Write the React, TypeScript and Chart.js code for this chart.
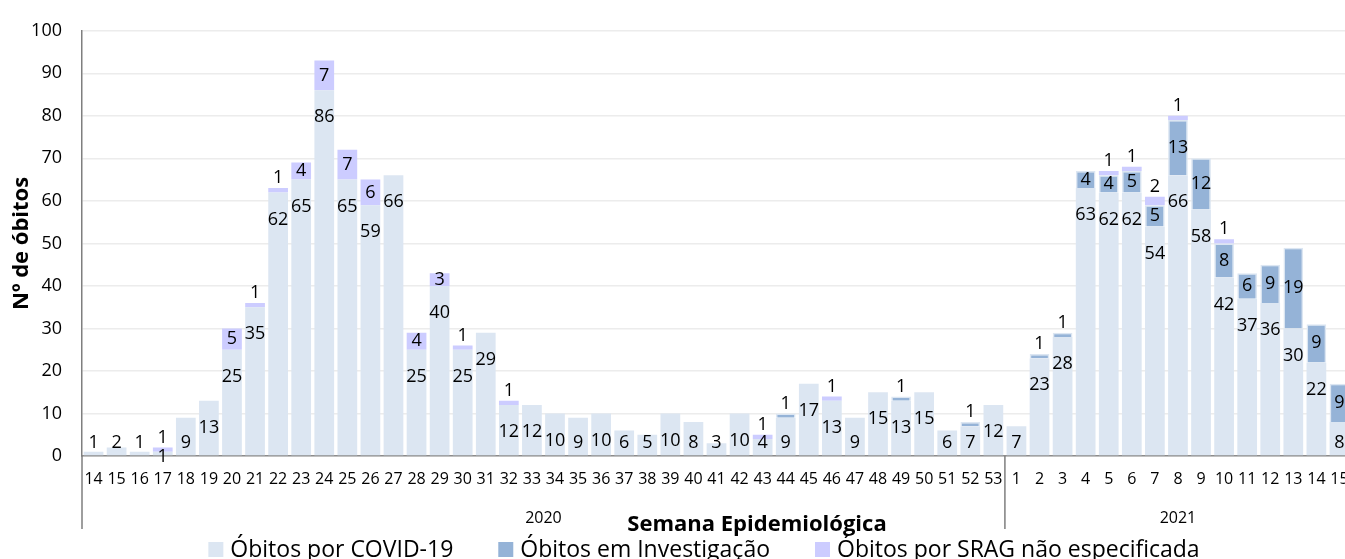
import React, { useEffect, useRef } from "react";
import { Chart, registerables } from "chart.js";

Chart.register(...registerables);

// ---- Data ----
const weeks2020 = [
  "14", "15", "16", "17", "18", "19", "20", "21", "22", "23",
  "24", "25", "26", "27", "28", "29", "30", "31", "32", "33",
  "34", "35", "36", "37", "38", "39", "40", "41", "42", "43",
  "44", "45", "46", "47", "48", "49", "50", "51", "52", "53",
];
const weeks2021 = ["1", "2", "3", "4", "5", "6", "7", "8", "9", "10", "11", "12", "13", "14", "15"];
const yearLabels = ["2020", "2021"];
const categories = [...weeks2020, ...weeks2021];

const obitosCovid = [
  1, 2, 1, 1, 9, 13, 25, 35, 62, 65,
  86, 65, 59, 66, 25, 40, 25, 29, 12, 12,
  10, 9, 10, 6, 5, 10, 8, 3, 10, 4,
  9, 17, 13, 9, 15, 13, 15, 6, 7, 12,
  7, 23, 28, 63, 62, 62, 54, 66, 58, 42, 37, 36, 30, 22, 8,
];
const obitosInvestigacao = [
  0, 0, 0, 0, 0, 0, 0, 0, 0, 0,
  0, 0, 0, 0, 0, 0, 0, 0, 0, 0,
  0, 0, 0, 0, 0, 0, 0, 0, 0, 0,
  1, 0, 0, 0, 0, 1, 0, 0, 1, 0,
  0, 1, 1, 4, 4, 5, 5, 13, 12, 8, 6, 9, 19, 9, 9,
];
const obitosSrag = [
  0, 0, 0, 1, 0, 0, 5, 1, 1, 4,
  7, 7, 6, 0, 4, 3, 1, 0, 1, 0,
  0, 0, 0, 0, 0, 0, 0, 0, 0, 1,
  0, 0, 1, 0, 0, 0, 0, 0, 0, 0,
  0, 0, 0, 0, 1, 1, 2, 1, 0, 1, 0, 0, 0, 0, 0,
];
const seriesNames = ["Óbitos por COVID-19", "Óbitos em Investigação", "Óbitos por SRAG não especificada"];
const yAxisTitle = "Nº de óbitos";
const xAxisTitle = "Semana Epidemiológica";

// ---- Styles ----
const COLORS = ["#dce6f2", "#95b3d7", "#ccccff"];
const FONT = "'Open Sans', sans-serif";
const AXIS_COLOR = "#7f7f7f";
const CANVAS_W = 1351;

const extrasPlugin = {
  id: "extras",
  afterDatasetsDraw(chart: any) {
    const ctx = chart.ctx;
    ctx.save();
    ctx.font = `18px ${FONT}`;
    ctx.fillStyle = "#000";
    ctx.textAlign = "center";
    ctx.textBaseline = "middle";
    const metaCovid = chart.getDatasetMeta(0);
    const metaInv = chart.getDatasetMeta(1);
    const metaSrag = chart.getDatasetMeta(2);
    const data = chart.data.datasets;
    for (let j = 0; j < categories.length; j++) {
      const upperYs: number[] = [];
      [metaInv, metaSrag].forEach((meta, k) => {
        const v = data[k + 1].data[j];
        if (!v) return;
        const el = meta.data[j];
        const h = el.base - el.y;
        const ly = h >= 12 ? (el.y + el.base) / 2 : el.y - 10;
        upperYs.push(ly);
        ctx.fillText(String(v), el.x, ly);
      });
      const v = data[0].data[j];
      if (!v) continue;
      const el = metaCovid.data[j];
      let ly = Math.min(el.y + 27, el.base - 12);
      if (upperYs.some((u) => Math.abs(u - ly) < 16)) ly = el.base + 2;
      ctx.fillText(String(v), el.x, ly);
    }
    ctx.restore();
  },
  afterDraw(chart: any) {
    const ctx = chart.ctx;
    const xs = chart.scales.x;
    const ca = chart.chartArea;
    const n = weeks2020.length;
    const divX = (xs.getPixelForValue(n - 1) + xs.getPixelForValue(n)) / 2;
    ctx.save();
    // group dividers
    ctx.strokeStyle = AXIS_COLOR;
    ctx.lineWidth = 1.5;
    ctx.beginPath();
    ctx.moveTo(ca.left, ca.bottom);
    ctx.lineTo(ca.left, 529);
    ctx.moveTo(divX, ca.bottom);
    ctx.lineTo(divX, 529);
    ctx.stroke();
    // year labels
    ctx.fillStyle = "#000";
    ctx.font = `16px ${FONT}`;
    ctx.textAlign = "center";
    ctx.textBaseline = "alphabetic";
    ctx.fillText(yearLabels[0], (ca.left + divX) / 2, 523);
    ctx.fillText(yearLabels[1], (divX + ca.right) / 2, 523);
    // x title
    ctx.font = `bold 22px ${FONT}`;
    ctx.fillText(xAxisTitle, 757, 531);
    // y title
    ctx.save();
    ctx.translate(22, (ca.top + ca.bottom) / 2);
    ctx.rotate(-Math.PI / 2);
    ctx.textBaseline = "middle";
    ctx.font = `bold 22px ${FONT}`;
    ctx.fillText(yAxisTitle, 0, 0);
    ctx.restore();
    // legend
    ctx.font = `23px ${FONT}`;
    const box = 15, gapBox = 7, gapItem = 45;
    const widths = seriesNames.map((s) => ctx.measureText(s).width);
    const total = widths.reduce((a, w) => a + box + gapBox + w, 0) + gapItem * (seriesNames.length - 1);
    let x = 704 - total / 2;
    ctx.textAlign = "left";
    seriesNames.forEach((s, i) => {
      ctx.fillStyle = COLORS[i];
      ctx.fillRect(x, 542, box, box);
      ctx.fillStyle = "#000";
      ctx.fillText(s, x + box + gapBox, 557);
      x += box + gapBox + widths[i] + gapItem;
    });
    ctx.restore();
  },
};

export default function App() {
  const ref = useRef<HTMLCanvasElement | null>(null);
  useEffect(() => {
    document.documentElement.style.overflow = "hidden";
    document.body.style.overflow = "hidden";
    if (!ref.current) return;
    const chart = new Chart(ref.current, {
      type: "bar",
      data: {
        labels: categories,
        datasets: [
          { label: seriesNames[0], data: obitosCovid, backgroundColor: COLORS[0], borderWidth: 0 },
          { label: seriesNames[1], data: obitosInvestigacao, backgroundColor: COLORS[1], borderColor: COLORS[0], borderWidth: 1.5 },
          { label: seriesNames[2], data: obitosSrag, backgroundColor: COLORS[2], borderWidth: 0 },
        ],
      },
      options: {
        responsive: false,
        animation: false,
        devicePixelRatio: 1,
        datasets: { bar: { barPercentage: 0.855, categoryPercentage: 1 } },
        layout: { padding: { top: 24, right: 0, left: 0, bottom: 0 } },
        plugins: { legend: { display: false }, tooltip: { enabled: false } },
        scales: {
          x: {
            stacked: true,
            grid: { display: false, drawTicks: false },
            border: { display: true, color: "#8c8c8c", width: 1.5 },
            ticks: { autoSkip: false, maxRotation: 0, minRotation: 0, color: "#000", font: { family: FONT, size: 16 }, padding: 14 },
            afterFit: (s: any) => { s.height = 103; s.paddingRight = 0; },
          },
          y: {
            stacked: true,
            min: 0,
            max: 100,
            grid: { color: "#ececec", lineWidth: 1.5, drawTicks: false },
            border: { display: true, color: AXIS_COLOR, width: 1.5 },
            ticks: { stepSize: 10, color: "#000", font: { family: FONT, size: 18 }, padding: 20 },
            afterFit: (s: any) => { s.width = 82; },
          },
        },
      },
      plugins: [extrasPlugin],
    } as any);
    return () => chart.destroy();
  }, []);
  return (
    <div style={{ position: "fixed", left: 0, top: 0, width: CANVAS_W, height: 559, background: "#fff" }}>
      <canvas ref={ref} width={CANVAS_W} height={559} />
    </div>
  );
}
